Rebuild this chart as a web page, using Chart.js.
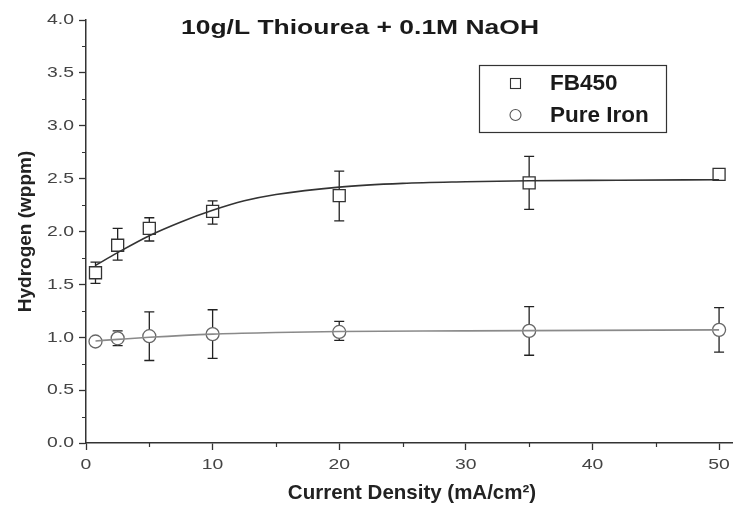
<!DOCTYPE html>
<html>
<head>
<meta charset="utf-8">
<script src="https://cdn.jsdelivr.net/npm/chart.js@4.4.0/dist/chart.umd.min.js"></script>
<style>
  body { margin: 0; background: #fff; }
  #wrap { width: 733px; height: 505px; }
</style>
</head>
<body>
<div id="wrap"><canvas id="hydrogen-chart" width="733" height="505"></canvas></div>
<script>
// charging current density (mA/cm2)
const currentDensity = [0.75, 2.5, 5, 10, 20, 35, 50];

// measured hydrogen (wppm) with error bar ends
const fb450 = [1.61, 1.87, 2.03, 2.19, 2.34, 2.46, 2.54];
const fb450Low = [1.51, 1.73, 1.91, 2.07, 2.10, 2.21, 2.52];
const fb450High = [1.71, 2.03, 2.13, 2.29, 2.57, 2.71, 2.56];

const pureIron = [0.96, 0.99, 1.01, 1.03, 1.05, 1.06, 1.07];
const pureIronLow = [0.93, 0.92, 0.78, 0.80, 0.97, 0.83, 0.86];
const pureIronHigh = [0.99, 1.06, 1.24, 1.26, 1.15, 1.29, 1.28];

// fitted curves
const fb450FitX = [0.75, 2.5, 5, 7.5, 10, 12.5, 15, 20, 25, 30, 35, 42, 50];
const fb450FitY = [1.68, 1.80, 1.96, 2.09, 2.20, 2.29, 2.35, 2.42, 2.455, 2.47, 2.48, 2.485, 2.49];
const pureIronFitX = [0.75, 2.5, 5, 10, 15, 20, 30, 40, 50];
const pureIronFitY = [0.965, 0.98, 1.00, 1.03, 1.045, 1.055, 1.06, 1.065, 1.07];

// axis ticks
const yTicks = [0, 0.5, 1, 1.5, 2, 2.5, 3, 3.5, 4];
const yMinorTicks = [0.25, 0.75, 1.25, 1.75, 2.25, 2.75, 3.25, 3.75];
const xTicks = [0, 10, 20, 30, 40, 50];
const xMinorTicks = [5, 15, 25, 35, 45];

const FONT = '"Liberation Sans", Arial, sans-serif';
const AXIS = '#333';

function toPoints(xs, ys) {
    return xs.map((x, i) => ({ x: x, y: ys[i] }));
}

// the original figure's text is stretched sideways, so draw it scaled
function wideText(ctx, text, x, y, align, sx) {
    ctx.save();
    ctx.translate(x, y);
    ctx.scale(sx, 1);
    ctx.textAlign = align;
    ctx.fillText(text, 0, 0);
    ctx.restore();
}

const extras = {
    id: 'extras',
    beforeDatasetsDraw(chart) {
        const ctx = chart.ctx;
        const xs = chart.scales.x, ys = chart.scales.y;
        const bars = [[fb450Low, fb450High], [pureIronLow, pureIronHigh]];
        ctx.save();
        ctx.strokeStyle = '#222';
        ctx.lineWidth = 1.3;
        bars.forEach(([lo, hi]) => {
            currentDensity.forEach((c, i) => {
                const px = xs.getPixelForValue(c);
                const y1 = ys.getPixelForValue(lo[i]);
                const y2 = ys.getPixelForValue(hi[i]);
                ctx.beginPath();
                ctx.moveTo(px, y1); ctx.lineTo(px, y2);
                ctx.moveTo(px - 5, y1); ctx.lineTo(px + 5, y1);
                ctx.moveTo(px - 5, y2); ctx.lineTo(px + 5, y2);
                ctx.stroke();
            });
        });
        ctx.restore();
    },
    afterDraw(chart) {
        const ctx = chart.ctx;
        const xs = chart.scales.x, ys = chart.scales.y;
        const area = chart.chartArea;
        ctx.save();
        // minor ticks
        ctx.strokeStyle = AXIS;
        ctx.lineWidth = 1.2;
        ctx.beginPath();
        yMinorTicks.forEach(v => {
            const py = Math.round(ys.getPixelForValue(v)) + 0.5;
            ctx.moveTo(area.left - 4, py); ctx.lineTo(area.left, py);
        });
        xMinorTicks.forEach(v => {
            const px = Math.round(xs.getPixelForValue(v)) + 0.5;
            ctx.moveTo(px, area.bottom); ctx.lineTo(px, area.bottom + 4);
        });
        ctx.stroke();

        // tick labels
        ctx.fillStyle = '#444';
        ctx.font = '15.5px ' + FONT;
        ctx.textBaseline = 'middle';
        yTicks.forEach(v => {
            wideText(ctx, v.toFixed(1), area.left - 12, ys.getPixelForValue(v), 'right', 1.25);
        });
        xTicks.forEach(v => {
            wideText(ctx, String(v), xs.getPixelForValue(v), area.bottom + 22, 'center', 1.25);
        });

        // axis titles
        ctx.fillStyle = '#222';
        ctx.font = 'bold 20.5px ' + FONT;
        ctx.textBaseline = 'alphabetic';
        ctx.textAlign = 'center';
        ctx.fillText('Current Density (mA/cm²)', 412, 499);
        ctx.save();
        ctx.translate(31, (area.top + area.bottom) / 2);
        ctx.rotate(-Math.PI / 2);
        ctx.font = 'bold 19px ' + FONT;
        ctx.fillText('Hydrogen (wppm)', 0, 0);
        ctx.restore();

        // title
        ctx.fillStyle = '#1a1a1a';
        ctx.font = 'bold 21px ' + FONT;
        ctx.textBaseline = 'middle';
        wideText(ctx, '10g/L Thiourea + 0.1M NaOH', 360, 28, 'center', 1.26);

        // legend box
        ctx.strokeStyle = '#333';
        ctx.lineWidth = 1.2;
        ctx.strokeRect(479.5, 65.5, 187, 67);
        ctx.lineWidth = 1.1;
        ctx.strokeRect(510.5, 78.5, 10, 10);
        ctx.beginPath();
        ctx.arc(515.5, 115, 5.5, 0, Math.PI * 2);
        ctx.strokeStyle = '#555';
        ctx.stroke();
        ctx.fillStyle = '#1a1a1a';
        ctx.font = 'bold 22.5px ' + FONT;
        ctx.textAlign = 'left';
        ctx.fillText('FB450', 550, 84);
        ctx.fillText('Pure Iron', 550, 116);
        ctx.restore();
    }
};

new Chart(document.getElementById('hydrogen-chart').getContext('2d'), {
    type: 'scatter',
    data: {
        datasets: [
            {
                label: 'FB450 fit',
                data: toPoints(fb450FitX, fb450FitY),
                showLine: true,
                borderColor: '#333',
                borderWidth: 1.6,
                pointRadius: 0,
                cubicInterpolationMode: 'monotone'
            },
            {
                label: 'Pure Iron fit',
                data: toPoints(pureIronFitX, pureIronFitY),
                showLine: true,
                borderColor: '#8a8a8a',
                borderWidth: 1.6,
                pointRadius: 0,
                cubicInterpolationMode: 'monotone'
            },
            {
                label: 'FB450',
                data: toPoints(currentDensity, fb450),
                pointStyle: 'rect',
                pointRadius: 8.5,
                backgroundColor: '#fff',
                borderColor: '#333',
                borderWidth: 1.3
            },
            {
                label: 'Pure Iron',
                data: toPoints(currentDensity, pureIron),
                pointStyle: 'circle',
                pointRadius: 6.5,
                backgroundColor: '#fff',
                borderColor: '#666',
                borderWidth: 1.3
            }
        ]
    },
    options: {
        responsive: false,
        animation: false,
        layout: { autoPadding: false, padding: { top: 20, right: 0, left: 0, bottom: 0 } },
        plugins: {
            legend: { display: false },
            tooltip: { enabled: false }
        },
        scales: {
            x: {
                type: 'linear',
                min: 0,
                max: 51.1,
                afterBuildTicks: s => { s.ticks = xTicks.map(v => ({ value: v })); },
                afterFit: s => { s.height = 62; s.paddingLeft = 0; s.paddingRight = 0; },
                border: { color: AXIS, width: 1.5 },
                grid: { drawOnChartArea: false, drawTicks: true, tickLength: 7, tickColor: AXIS, tickWidth: 1.3 },
                ticks: { display: false }
            },
            y: {
                type: 'linear',
                min: 0,
                max: 4,
                afterBuildTicks: s => { s.ticks = yTicks.map(v => ({ value: v })); },
                afterFit: s => { s.width = 86; s.paddingTop = 0; s.paddingBottom = 0; },
                border: { color: AXIS, width: 1.5 },
                grid: { drawOnChartArea: false, drawTicks: true, tickLength: 7, tickColor: AXIS, tickWidth: 1.3 },
                ticks: { display: false }
            }
        }
    },
    plugins: [extras]
});
</script>
</body>
</html>
